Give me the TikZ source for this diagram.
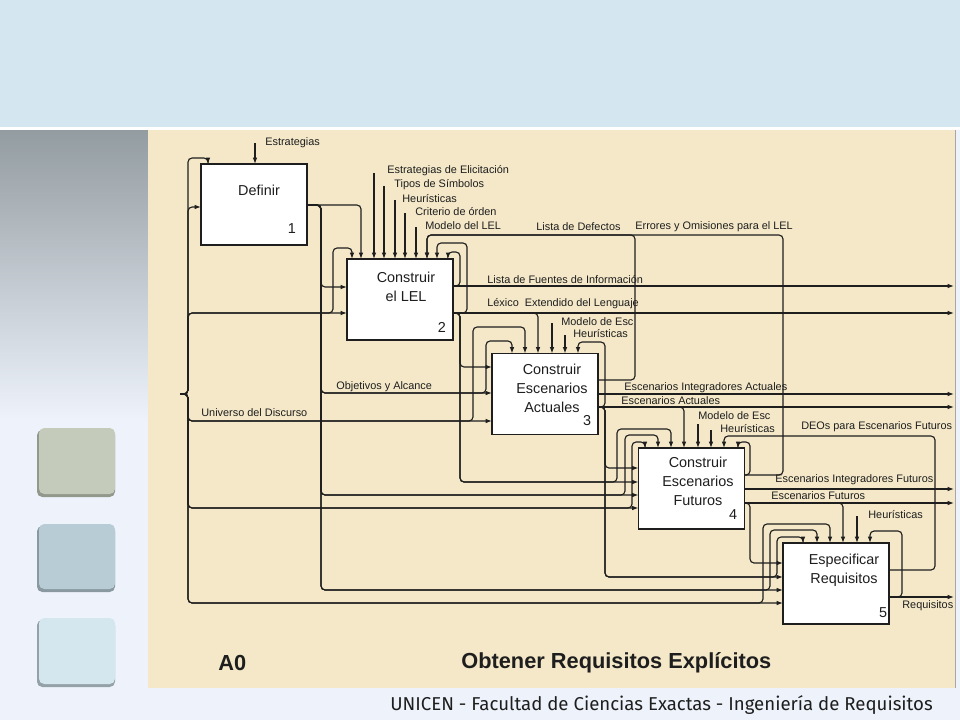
\documentclass[tikz,border=0pt]{standalone}
\usepackage{fontspec}
\setmainfont{Liberation Sans}
\newfontfamily\footfont{Fira Sans}
\usetikzlibrary{arrows.meta,positioning}

\definecolor{band}{HTML}{D4E6EF}
\definecolor{paper}{HTML}{F4E8C8}
\definecolor{pale}{HTML}{EEF3FB}
\definecolor{slate}{HTML}{939CA1}
\definecolor{ink}{HTML}{1E1E1E}
\definecolor{sqA}{HTML}{C4CBBB}
\definecolor{sqB}{HTML}{B8CCD5}
\definecolor{sqC}{HTML}{D4E6EE}

\tikzset{
  act/.style={draw=ink, fill=white, line width=0.75pt, minimum width=2.12cm,
    minimum height=1.62cm, inner sep=0pt, outer sep=0pt},
  acttxt/.style={align=center, font=\fontsize{8.2}{10.8}\selectfont, text=ink, inner sep=0pt},
  num/.style={font=\fontsize{8.2}{9}\selectfont, text=ink, inner sep=0pt},
  lbl/.style={font=\fontsize{6.2}{7}\selectfont, text=ink, inner sep=0pt, anchor=west},
  wire/.style={draw=ink, line width=0.65pt, rounded corners=2.3pt},
  flow/.style={wire, -{Latex[length=3.6pt,width=2.6pt]}},
}

\begin{document}
\begin{tikzpicture}[x=0.02cm, y=-0.02cm]
\useasboundingbox (0,0) rectangle (960,720);
% background of the slide
\fill[pale] (0,0) rectangle (960,720);
\fill[band] (0,0) rectangle (960,127);
\fill[white] (0,127) rectangle (960,130);
\shade[top color=slate, bottom color=pale] (0,130) rectangle (148,420);
\fill[paper] (148,130) rectangle (955,688);
\draw[gray!70, line width=1pt] (955.5,130) -- (955.5,688);
\fill[sqA!75!black, rounded corners=3pt] (37,430) rectangle (115,497);
\fill[sqA, rounded corners=3pt] (39,428) rectangle (115,494);
\fill[sqB!75!black, rounded corners=3pt] (37,526) rectangle (115,592);
\fill[sqB, rounded corners=3pt] (39,524) rectangle (115,589);
\fill[sqC!70!black, rounded corners=3pt] (37,620) rectangle (115,687);
\fill[sqC, rounded corners=3pt] (39,618) rectangle (115,684);

% activities
\node[act] (b1) at (254,204.5) {};
\node[act] (b2) at (400,299.5) {};
\node[act] (b3) at (545,394) {};
\node[act] (b4) at (691.5,488.5) {};
\node[act] (b5) at (836,583.5) {};
\node[acttxt] (t1) at (259,190) {Definir};
\node[acttxt] (t2) at (406,286.5) {Construir\\el LEL};
\node[acttxt] (t3) at (552,388.5) {Construir\\Escenarios\\Actuales};
\node[acttxt] (t4) at (698,481.5) {Construir\\Escenarios\\Futuros};
\node[acttxt] (t5) at (844,570) {Especificar\\Requisitos};
\node[num] (n1) at (292,229) {1};
\node[num] (n2) at (442,327) {2};
\node[num] (n3) at (587,421) {3};
\node[num] (n4) at (733,515) {4};
\node[num] (n5) at (883,613) {5};

% free ends
\coordinate (uni) at (180,394);
\coordinate (cestr) at (255,143);
\coordinate (celic) at (374,173);
\coordinate (ctipos) at (384,186);
\coordinate (cheu2) at (395,200);
\coordinate (ccrit) at (405,213);
\coordinate (cmod2) at (416,227);
\coordinate (cmod3) at (552,323);
\coordinate (cheu3) at (565,335);
\coordinate (cmod4) at (698,424);
\coordinate (cheu4) at (711,430);
\coordinate (cheu5) at (857,516);
\coordinate (ofuentes) at (954,286);
\coordinate (olexico) at (954,313);
\coordinate (ointact) at (954,394);
\coordinate (oescact) at (954,407);
\coordinate (ointfut) at (954,489);
\coordinate (oescfut) at (954,503);
\coordinate (oreq) at (954,597);

% Universo del Discurso
\draw[flow] (uni) -- (188,394) |- (208,158) -- (b1.north -| 208,0);
\draw[flow] (uni) -- (188,394) |- (b1.west |- 0,207);
\draw[flow] (uni) -- (188,394) |- (b2.west |- 0,313);
\draw[flow] (uni) -- (188,394) |- (333,313) |- (352,248) -- (b2.north -| 352,0);
\draw[flow] (uni) -- (188,394) |- (b3.west |- 0,421);
\draw[flow] (uni) -- (188,394) |- (473,421) |- (525,327) -- (b3.north -| 525,0);
\draw[flow] (uni) -- (188,394) |- (b4.west |- 0,508);
\draw[flow] (uni) -- (188,394) |- (632,508) |- (645,442) -- (b4.north -| 645,0);
\draw[flow] (uni) -- (188,394) |- (b5.west |- 0,603);
\draw[flow] (uni) -- (188,394) |- (763,603) |- (830,524) -- (b5.north -| 830,0);

% Objetivos y Alcance
\draw[flow] (b1.east |- 0,205) -| (b2.north -| 361,0);
\draw[flow] (b1.east |- 0,205) -- (321,205) |- (b2.west |- 0,287);
\draw[flow] (b1.east |- 0,205) -- (321,205) |- (b3.west |- 0,393);
\draw[flow] (b1.east |- 0,205) -- (321,205) |- (486,393) |- (512,341) -- (b3.north -| 512,0);
\draw[flow] (b1.east |- 0,205) -- (321,205) |- (b4.west |- 0,495);
\draw[flow] (b1.east |- 0,205) -- (321,205) |- (625,495) |- (658,435) -- (b4.north -| 658,0);
\draw[flow] (b1.east |- 0,205) -- (321,205) |- (b5.west |- 0,590);
\draw[flow] (b1.east |- 0,205) -- (321,205) |- (770,590) |- (817,530) -- (b5.north -| 817,0);

% controls from outside
\draw[flow] (cestr) -- (b1.north -| cestr);
\draw[flow] (celic) -- (b2.north -| celic);
\draw[flow] (ctipos) -- (b2.north -| ctipos);
\draw[flow] (cheu2) -- (b2.north -| cheu2);
\draw[flow] (ccrit) -- (b2.north -| ccrit);
\draw[flow] (cmod2) -- (b2.north -| cmod2);
\draw[flow] (cmod3) -- (b3.north -| cmod3);
\draw[flow] (cheu3) -- (b3.north -| cheu3);
\draw[flow] (cmod4) -- (b4.north -| cmod4);
\draw[flow] (cheu4) -- (b4.north -| cheu4);
\draw[flow] (cheu5) -- (b5.north -| cheu5);

% Construir el LEL
\draw[flow] (b2.east |- 0,286) -- (ofuentes);
\draw[flow] (b2.east |- 0,286) -| (460,252) -| (b2.north -| 448,0);
\draw[flow] (b2.east |- 0,313) -- (olexico);
\draw[flow] (b2.east |- 0,313) -| (467,243) -| (b2.north -| 437,0);
\draw[flow] (b2.east |- 0,313) -| (b3.north -| 538,0);
\draw[flow] (b2.east |- 0,313) -| (460,340) |- (b3.west |- 0,367);
\draw[flow] (b2.east |- 0,313) -| (460,340) |- (b4.west |- 0,482);
\draw[flow] (b2.east |- 0,313) -| (460,340) |- (617,482) |- (671,429) -- (b4.north -| 671,0);

% Construir Escenarios Actuales
\draw[flow] (b3.east |- 0,380) -| (635,235) -| (b2.north -| 427,0);
\draw[flow] (b3.east |- 0,394) -- (ointact);
\draw[flow] (b3.east |- 0,407) -- (oescact);
\draw[flow] (b3.east |- 0,407) -| (605,342) -| (b3.north -| 578,0);
\draw[flow] (b3.east |- 0,407) -| (b4.north -| 684,0);
\draw[flow] (b3.east |- 0,407) -| (605,440) |- (b4.west |- 0,468);
\draw[flow] (b3.east |- 0,407) -| (605,440) |- (b5.west |- 0,577);
\draw[flow] (b3.east |- 0,407) -| (605,440) |- (777,577) |- (803,537) -- (b5.north -| 803,0);

% Construir Escenarios Futuros
\draw[flow] (b4.east |- 0,475) -| (783,235) -| (b2.north -| 427,0);
\draw[flow] (b4.east |- 0,475) -| (750,442) -| (b4.north -| 738,0);
\draw[flow] (b4.east |- 0,489) -- (ointfut);
\draw[flow] (b4.east |- 0,503) -- (oescfut);
\draw[flow] (b4.east |- 0,503) -| (750,530) |- (b5.west |- 0,563);
\draw[flow] (b4.east |- 0,503) -| (b5.north -| 843,0);

% Especificar Requisitos
\draw[flow] (b5.east |- 0,570) -| (935,436) -| (b4.north -| 724,0);
\draw[flow] (b5.east |- 0,597) -- (oreq);
\draw[flow] (b5.east |- 0,597) -| (902,531) -| (b5.north -| 870,0);

% arrow labels
\node[lbl] (l1) at (265,143) {Estrategias};
\node[lbl] (l2) at (387,171) {Estrategias de Elicitación};
\node[lbl] (l3) at (394,185) {Tipos de Símbolos};
\node[lbl] (l4) at (402,199) {Heurísticas};
\node[lbl] (l5) at (415,212) {Criterio de órden};
\node[lbl] (l6) at (425,226) {Modelo del LEL};
\node[lbl] (l7) at (536,227) {Lista de Defectos};
\node[lbl] (l8) at (635,227) {Errores y Omisiones para el LEL};
\node[lbl] (l9) at (487,280) {Lista de Fuentes de Información};
\node[lbl] (l10) at (487,304) {Léxico\ \ Extendido del Lenguaje};
\node[lbl] (l11) at (561,322) {Modelo de Esc};
\node[lbl] (l12) at (573,334) {Heurísticas};
\node[lbl] (l13) at (336,387) {Objetivos y Alcance};
\node[lbl] (l14) at (201,413) {Universo del Discurso};
\node[lbl] (l15) at (624,388) {Escenarios Integradores Actuales};
\node[lbl] (l16) at (621,401) {Escenarios Actuales};
\node[lbl] (l17) at (698,416) {Modelo de Esc};
\node[lbl] (l18) at (720,429) {Heurísticas};
\node[lbl] (l19) at (801,427) {DEOs para Escenarios Futuros};
\node[lbl] (l20) at (775,480) {Escenarios Integradores Futuros};
\node[lbl] (l21) at (771,496) {Escenarios Futuros};
\node[lbl] (l22) at (868,515) {Heurísticas};
\node[lbl] (l23) at (902,606) {Requisitos};

% title block
\node[font=\bfseries\fontsize{12.4}{14}\selectfont, text=ink, anchor=west, inner sep=0pt] (nodeid) at (218,663) {A0};
\node[font=\bfseries\fontsize{12.4}{14}\selectfont, text=ink, anchor=west, inner sep=0pt] (title) at (461,663) {Obtener Requisitos Explícitos};
\node[font=\footfont\fontsize{10.6}{12}\selectfont, text=ink, anchor=west, inner sep=0pt] (foot) at (390,705) {UNICEN - Facultad de Ciencias Exactas - Ingeniería de Requisitos};
\end{tikzpicture}
\end{document}
